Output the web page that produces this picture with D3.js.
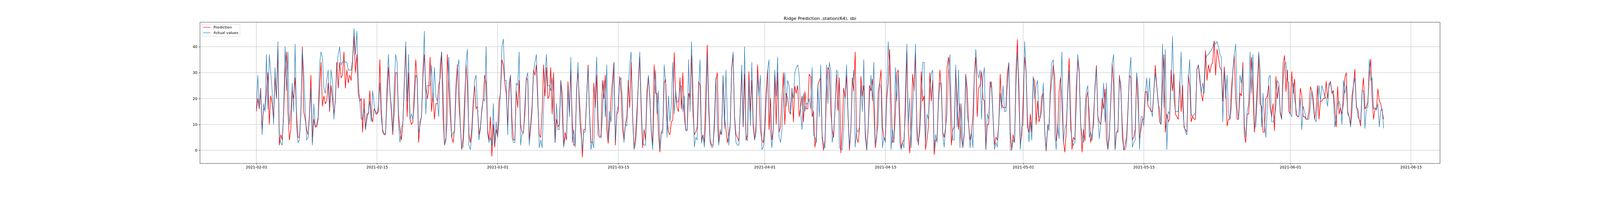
<!DOCTYPE html>
<html>
<head>
<meta charset="utf-8">
<script src="https://cdn.jsdelivr.net/npm/d3@7"></script>
<style>
  html, body { margin: 0; padding: 0; background: #fff; overflow: hidden; }
  svg { display: block; width: 100vw; height: auto; font-family: "DejaVu Sans", sans-serif; }
</style>
</head>
<body>
<svg id="chart"></svg>
<script>
// series start and sampling step (hours)
const startDate = "2021-02-01T00:00:00Z";
const stepHours = 4;

// Actual values, 6 samples per day
const actualValues = [
  16, 29, 16, 23, 6, 18,   15, 37, 16, 37, 30, 23,   10, 32, 20, 42, 5, 3,
  2, 16, 40, 23, 38, 10,   15, 26, 15, 41, 9, 3,     4, 15, 39, 30, 16, 4,
  5, 13, 24, 2, 18, 9,     10, 13, 33, 38, 36, 24,   22, 27, 31, 16, 31, 27,
  12, 20, 31, 37, 40, 33,  34, 35, 34, 34, 31, 31,   31, 35, 47, 37, 46, 26,
  19, 12, 12, 16, 8, 12,   15, 19, 11, 23, 18, 14,   14, 17, 26, 12, 8, 6,
  6, 26, 37, 23, 17, 7,    25, 37, 34, 10, 3, 9,     10, 25, 42, 19, 37, 12,
  14, 12, 18, 29, 28, 6.5, 10, 13, 31, 46, 14, 25,   25, 25, 33, 19, 32, 21,
  19, 13, 33, 38, 24, 2,   5, 11, 36, 20, 5, 7,      7, 21, 32, 35, 9, 1.2,
  1.2, 12, 34, 39, 2, 0.3, 5, 16, 27, 29, 17, 4,     8, 16, 20, 19, 40, 6.5,
  3, 5, 1.7, 18, 2, 11,    5, 11, 23, 40, 43, 27,    27, 6, 26, 29, 5, 3,
  3, 26, 25, 38, 2, 6.5,   6.5, 18, 28, 30, 2, 8,    15, 30, 34, 37, 21, 1,
  4, 1, 16, 29, 37, 25,    25, 23, 28, 16, 3, 18,    8, 8, 27, 14, 1.2, 5,
  5, 24, 13, 36, 3, 8,     1.2, 22, 34, 12, 6.5, 0.3, 7, 7, 20, 32, 14, 0.3,
  3.6, 1, 22, 36, 12, 6,   5, 13, 27, 13, 33, 4,     15, 11, 19, 34, 3, 15,
  17, 27, 28, 18, 3, 10,   9.4, 24, 33, 38, 14, 0.3, 2, 10, 27, 38, 18, 3,
  2, 2, 19, 29, 21, 7,     0.3, 19, 31, 14, 23, 0.3, 7, 6.5, 33, 26, 5, 21,
  11, 18, 34, 14, 23, 18.5, 19, 24, 25, 15, 21, 7.5, 7.5, 35, 15, 42, 26, 1.2,
  5, 4, 24, 35, 2.7, 6,    1.2, 12, 37, 15, 3, 1.2,  1.2, 13, 28, 10, 2, 8,
  6, 29, 8.4, 31, 13, 2,   9.4, 32, 38, 12, 3, 2,    2, 16, 33, 9.4, 40, 5,
  3.6, 27, 9.4, 34, 11, 4, 7, 29, 21, 29, 0.3, 1.2,  5, 19, 31, 35, 7, 1,
  8, 31, 21, 36, 5, 3,     8, 20, 30, 17, 27, 25,    14, 23, 20, 30, 32, 33,
  29, 15, 8, 22, 15, 18,   18, 20, 16, 32, 6, 5,     3, 25, 13, 33, 6, 2,
  1, 33, 18, 34, 31, 3,    7, 16, 31, 30, 1.2, 0.3,  0.3, 8, 21, 33, 15, 1.2,
  8, 25, 31, 1.2, 8, 7,    9, 25, 15, 35, 5, 0.3,    8, 20, 29, 19, 34, 2,
  6, 10, 26, 24, 1, 5,     3, 26, 42, 30, 0.3, 8,    3, 32, 19, 30, 3, 0.3,
  3, 1, 23, 41, 10, 20,    1, 16, 25, 41, 4, 3,      7, 18, 34, 34, 3, 14,
  12, 22, 29.7, 31, 0.3, 6, 3, 18, 26, 26, 6, 1.2,   9, 14, 30, 37, 15, 4,
  4, 33, 9, 31, 1, 18,     1.2, 6, 29, 14, 10, 1,    7, 1, 29, 39, 30, 28,
  31, 12, 28.5, 32, 0.3, 14, 12, 24, 26.6, 13, 0.3, 3, 1.2, 10, 22, 16, 25, 15,
  15, 25.6, 34, 0.3, 0, 4, 3, 25.6, 38, 27, 0.3, 9,  10, 42, 31, 13, 3.2, 11,
  4, 28.5, 20, 24.7, 27, 13, 12.6, 16, 26, 7, 0.3, 10, 7.5, 27, 34, 35, 6, 0.3,
  10, 4.5, 22, 38, 3, 8.5, 10, 21, 31, 8.5, 4, 2,    3, 18, 37, 31, 10, 6,
  3, 16, 23, 25, 5, 7,     4, 14, 23, 32, 13, 4.5,   10, 15, 26, 11, 26, 0.3,
  5, 20, 33.7, 37, 0.3, 7, 8, 28, 26, 5, 0.3, 0.3,   2, 15, 30, 36, 1.2, 3,
  4, 30, 25, 0.3, 13, 13,  9.4, 21, 28, 19, 28, 16,  13, 23, 30, 24.7, 18, 16,
  10, 41, 16.5, 39, 0.3, 15, 14, 26, 44, 20, 15, 15, 15, 25, 38, 17, 10, 7,
  6, 28, 35, 14, 13, 14,   14, 31, 33, 29, 22, 26,   22, 35, 36.7, 37, 38, 38.5,
  40, 42, 41, 42, 40, 37,  36, 11, 31.3, 20, 29, 14, 12, 16.5, 31, 37, 41, 16.5,
  12, 29, 26, 32, 10, 5,   15, 18, 38, 22, 37, 9,    9, 20, 38, 31, 9, 22,
  11, 5, 16.5, 28, 29, 11, 11, 13, 16.5, 27, 26, 14, 12, 27, 33.7, 34, 27, 26,
  14, 13, 26, 20, 16, 13,  13, 20, 8, 17, 15, 12,    12, 12, 17, 23, 17, 12,
  11, 17, 25, 19, 25, 23,  21, 20, 17, 26, 26, 23,   21, 9, 13, 18, 19, 17,
  10, 27, 22, 25, 14, 13,  9, 15, 25, 28, 18, 13,    12, 11, 23, 23, 8.5, 16.5,
  16.5, 35, 27, 28, 16, 16.5, 15.5, 18, 9, 15.5, 16, 8.5
];

// Ridge prediction, same sampling
const predictedValues = [
  15, 20, 16, 24, 8, 16,   16, 22, 30, 10, 21, 18,   12, 28, 20, 39, 2, 6,
  4, 14, 30, 38, 15, 4,    8, 23, 20, 28, 14, 5,     5, 14, 40, 15, 12, 8,
  6, 14, 29, 3, 12, 9,     9, 12, 23, 34, 17, 21,    18, 19, 26, 15, 25, 20,
  14, 19, 34, 24, 34, 28,  29, 38, 24, 31, 26, 29,   27, 34, 44, 30, 37, 22,
  19, 20, 7, 20, 8, 14,    14, 23, 13, 11, 16, 15,   14, 15, 35, 16, 7, 6,
  7, 20, 32, 23, 15, 6,    15, 30, 30, 14, 8, 4,     10, 26, 40, 13, 30, 12,
  10, 11, 23, 35, 27, 3,   11, 13, 28, 37, 24, 20,   23, 36, 15, 22, 12, 18,
  18, 25, 28, 38, 13, 2,   4, 37, 25, 14, 5, 3,      8, 25, 33, 19, 10, 0.3,
  5, 19, 33, 25, 6.5, 3,   8, 19, 25, 16, 17, 6,     9, 15, 20, 29, 26, 8,
  4, 13, -2.3, 10, 1.2, 8, 5.5, 19, 22, 35, 33, 26,  22, 10, 22, 29, 12, 4,
  4, 23, 16.5, 27, 10, 7,  7, 14, 28, 27, 4, 10,     17, 31, 29, 33, 18, 6,
  5, 15, 33, 21, 32, 20,   21, 32, 14, 30, 3, 12,    9, 10, 27, 22, 2, 7,
  4, 26.5, 15, 31, 11, 2,  2, 24, 30, 19, 10, -2.6,  8, 8, 20, 33, 14, 3,
  3, 26, 16.5, 29, 6, 5,   5, 27, 20, 29, 8, 2.7,    10, 20, 27, 34, 2, 14,
  15, 28.5, 22, 8, 4, 10,  13, 27, 16.5, 34, 13, 1,  5, 15, 25.6, 36, 15, 1,
  8, 4, 23, 28.5, 20, 8,   2, 33, 22, 22, 7, -0.7,   7, 8, 26, 27.5, 12, 7,
  6, 11, 11.7, 37.8, 21, 16.5, 15, 28, 16, 30, 13, 8, 8, 22, 20, 36.6, 14.6, 6,
  7, 9, 26.6, 25, 4, 6,    3, 22, 40.7, 19, 4, 2,    2, 9, 27, 30, 3, 7,
  6, 28.5, 13, 8, 3, 6,    10, 31.3, 37, 13, 6, 5,   3.6, 16, 30.4, 9, 29.4, 4,
  6, 30.4, 15, 27, 9, 4,   10, 33, 23, 8, 4, 3,      9, 23, 31, 8, 20, 4,
  8, 29, 10, 30, 7, 9,     20, 30, 10, 22, 20, 15,   14, 24, 11, 24.7, 22, 25,
  13, 16.5, 21, 11, 22.7, 16, 16, 29.4, 28.5, 13, 15, 1.2, 5, 25, 27, 28, 5, 0,
  4, 21, 32, 31, 15, 8,    5, 16.5, 29.4, 15.5, 28, -1, 8, 24, 20, 29, 14, 0,
  8, 28, 23, 38, 5, 3,     8, 28.5, 21, 25, 8, 0,    8, 25, 23, 27.5, 16, 1,
  5, 22, 26, 31, 9, 5,     4, 20, 26, 39, 20, 3,     4, 14, 30, 31, 14, 1,
  3, 4, 15, 38, 8, -1,     10, 29.4, 23, 37, 9, 2,   10, 30.4, 19, 21, 0.3, 4,
  9, 30, 19, 27, -1.6, 4,  4, 20, 31, 23, 7, 5,      9, 32, 36, 24, 2, 8,
  9, 31, 20, 8, 18, 5,     1, 7, 29.4, 23.7, 10, 4,  7, 13, 29.4, 36, 13, 24,
  25, 30.4, 20, 19, 0.3, 10, 10, 26.6, 24, 13, 2, 5, 4, 10, 29.4, 18, 16.5, 16.5,
  16.5, 30, 33.7, 7, 0.3, 6, 3, 30.4, 42.8, 20, 2, 6, 20, 36, 30.4, 9, 7, 14,
  7, 28, 26.6, 10, 19, 11, 13, 21, 22, 7.5, -0.3, 8.5, 10, 22, 28, 33, 27.5, 3.6,
  7, 22.7, 28, 18, 3.6, -0.7, 7, 22.7, 35.6, 14.6, 0.3, 5, 4, 24.7, 34.7, 30, 11, -0.7,
  8, 3.6, 20, 22.7, 14, 3, 6, 10, 24.7, 32.8, 13, 11, 10, 20, 16, 23.7, 4, 0.3,
  6, 18.5, 33.2, 25, 0.3, 7, 7, 29, 23, 10, 0, 2,    5, 16.5, 29, 28, 4, 5,
  8, 28.5, 18, 4.5, 8, 12, 12, 22.7, 22.7, 17, 16.5, 15, 15, 22.7, 32.8, 25, 19, 11,
  10, 24.7, 37, 7, 14, 11, 12, 31, 23, 29.5, 14, 13, 12, 26.6, 15, 25, 9, 8,
  7, 29, 24.7, 11, 13, 12, 12, 31.3, 33, 27, 22, 19, 25, 38.5, 27, 33, 30, 33,
  34, 42.3, 29, 39, 36, 32, 31, 19, 32.3, 25, 9.4, 12, 12, 23.7, 30.4, 36.6, 20, 12,
  12, 22, 21, 34, 6, 3,    14, 14, 23, 36, 22.7, 7,  14, 25, 37, 18, 17, 7,
  7, 20, 21, 25, 16.5, 13, 18, 7.5, 28.5, 20, 25, 15, 12, 33.3, 36.6, 22.7, 31, 15,
  14, 30.4, 22, 27.5, 14, 13, 13, 24, 21, 13, 13, 12, 12, 15, 24.5, 23, 20, 12,
  16, 25, 12, 19, 19, 20,  20, 26.6, 20, 24.7, 26.6, 22, 23, 16.5, 9, 24.7, 14, 16.5,
  14, 18, 28, 30, 15, 13,  10, 21, 25, 31.3, 16.5, 16, 12, 9.4, 22.7, 28, 16, 17,
  18.5, 29, 35.2, 20, 12, 16, 16, 23.7, 19, 18, 15, 12
];

// axis ticks
const xTickLabels = ["2021-02-01", "2021-02-15", "2021-03-01", "2021-03-15", "2021-04-01",
  "2021-04-15", "2021-05-01", "2021-05-15", "2021-06-01", "2021-06-15"];
const yTickValues = [0, 10, 20, 30, 40];

const titleText = "Ridge Prediction ,station(64), sbi";
const seriesNames = ["Prediction", "Actual values"];

// figure layout
const W = 4320, H = 504;
const margin = { top: 60, right: 432, bottom: 63, left: 540 };
const plotW = W - margin.left - margin.right;
const plotH = H - margin.top - margin.bottom;

const t0 = new Date(startDate).getTime();
const timeAt = (i) => new Date(t0 + i * stepHours * 3600 * 1000);

const actual = actualValues.map((v, i) => ({ t: timeAt(i), v }));
const predicted = predictedValues.map((v, i) => ({ t: timeAt(i), v }));

// matplotlib-like 5% auto margins
const tExt = d3.extent(actual, (d) => d.t.getTime());
const tPad = (tExt[1] - tExt[0]) * 0.05;
const vExt = d3.extent(actualValues.concat(predictedValues));
const vPad = (vExt[1] - vExt[0]) * 0.05;

const x = d3.scaleUtc()
  .domain([new Date(tExt[0] - tPad), new Date(tExt[1] + tPad)])
  .range([0, plotW]);

const y = d3.scaleLinear()
  .domain([vExt[0] - vPad, vExt[1] + vPad])
  .range([plotH, 0]);

// svg scales to the viewport width, drawn in 4320x504 units
const svg = d3.select("#chart")
  .attr("viewBox", [0, 0, W, H])
  .attr("preserveAspectRatio", "xMinYMin meet");

svg.append("rect").attr("width", W).attr("height", H).attr("fill", "#fff");

const g = svg.append("g").attr("transform", `translate(${margin.left},${margin.top})`);

const xTicks = xTickLabels.map((s) => new Date(s + "T00:00:00Z"));

// grid
g.append("g")
  .selectAll("line")
  .data(xTicks)
  .join("line")
  .attr("x1", (d) => x(d)).attr("x2", (d) => x(d))
  .attr("y1", 0).attr("y2", plotH)
  .attr("stroke", "#b0b0b0").attr("stroke-width", 0.8);

g.append("g")
  .selectAll("line")
  .data(yTickValues)
  .join("line")
  .attr("x1", 0).attr("x2", plotW)
  .attr("y1", (d) => y(d)).attr("y2", (d) => y(d))
  .attr("stroke", "#b0b0b0").attr("stroke-width", 0.8);

// lines
svg.append("clipPath").attr("id", "clip")
  .append("rect").attr("width", plotW).attr("height", plotH);

const line = d3.line()
  .x((d) => x(d.t))
  .y((d) => y(d.v));

const plot = g.append("g").attr("clip-path", "url(#clip)");

plot.append("path")
  .datum(predicted)
  .attr("d", line)
  .attr("fill", "none")
  .attr("stroke", "#ff0000")
  .attr("stroke-width", 1.5)
  .attr("stroke-linejoin", "round");

plot.append("path")
  .datum(actual)
  .attr("d", line)
  .attr("fill", "none")
  .attr("stroke", "#1f77b4")
  .attr("stroke-opacity", 0.85)
  .attr("stroke-width", 1.5)
  .attr("stroke-linejoin", "round");

// axes
const xAxis = g.append("g")
  .attr("transform", `translate(0,${plotH})`)
  .call(d3.axisBottom(x)
    .tickValues(xTicks)
    .tickSize(3.5)
    .tickPadding(3.5)
    .tickFormat((d, i) => xTickLabels[i]));

const yAxis = g.append("g")
  .call(d3.axisLeft(y)
    .tickValues(yTickValues)
    .tickSize(3.5)
    .tickPadding(3.5)
    .tickFormat(d3.format("d")));

[xAxis, yAxis].forEach((ax) => {
  ax.select(".domain").remove();
  ax.selectAll(".tick line").attr("stroke", "#000").attr("stroke-width", 0.8);
  ax.selectAll(".tick text")
    .attr("fill", "#000")
    .style("font-family", "DejaVu Sans")
    .style("font-size", "10px");
});

// spines
g.append("rect")
  .attr("width", plotW)
  .attr("height", plotH)
  .attr("fill", "none")
  .attr("stroke", "#000")
  .attr("stroke-width", 0.8);

// title
svg.append("text")
  .attr("x", margin.left + plotW / 2)
  .attr("y", margin.top - 6)
  .attr("text-anchor", "middle")
  .style("font-size", "12px")
  .attr("fill", "#000")
  .text(titleText);

// legend
const legend = g.append("g").attr("transform", "translate(5.5,5.5)");
legend.append("rect")
  .attr("width", 102.5)
  .attr("height", 32.5)
  .attr("rx", 2)
  .attr("fill", "#fff")
  .attr("fill-opacity", 0.8)
  .attr("stroke", "#cccccc")
  .attr("stroke-width", 0.8);

const legendColors = ["#ff0000", "#1f77b4"];
const items = legend.selectAll("g.item")
  .data(seriesNames)
  .join("g")
  .attr("class", "item")
  .attr("transform", (d, i) => `translate(3,${8 + i * 15})`);

items.append("line")
  .attr("x1", 0).attr("x2", 20)
  .attr("stroke", (d, i) => legendColors[i])
  .attr("stroke-opacity", 0.8)
  .attr("stroke-width", 1.5);

items.append("text")
  .attr("x", 28)
  .attr("dy", "0.35em")
  .style("font-size", "10px")
  .attr("fill", "#000")
  .text((d) => d);
</script>
</body>
</html>
